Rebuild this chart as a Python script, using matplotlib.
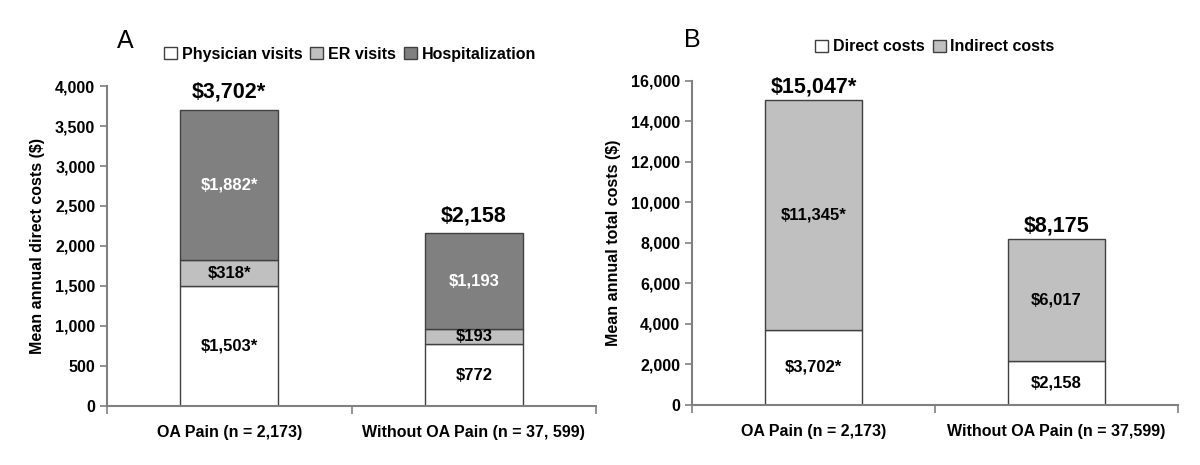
import matplotlib.pyplot as plt
from matplotlib.ticker import FuncFormatter, FixedLocator

plt.rcParams['font.family'] = ['Liberation Sans', 'DejaVu Sans']

groups_a = ["OA Pain (n = 2,173)", "Without OA Pain (n = 37, 599)"]
physician = [1503, 772]
er = [318, 193]
hosp = [1882, 1193]
physician_lbl = ["$1,503*", "$772"]
er_lbl = ["$318*", "$193"]
hosp_lbl = ["$1,882*", "$1,193"]
total_a = [3702, 2158]
total_a_lbl = ["$3,702*", "$2,158"]

groups_b = ["OA Pain (n = 2,173)", "Without OA Pain (n = 37,599)"]
direct = [3702, 2158]
indirect = [11345, 6017]
direct_lbl = ["$3,702*", "$2,158"]
indirect_lbl = ["$11,345*", "$6,017"]
total_b = [15047, 8175]
total_b_lbl = ["$15,047*", "$8,175"]

fig = plt.figure(figsize=(12, 4.65), dpi=100)
ax1 = fig.add_axes([0.0892, 0.127, 0.4075, 0.688])
ax2 = fig.add_axes([0.5767, 0.129, 0.405, 0.6975])

edge = "#404040"
w = 0.4
x = [0, 1]
fs = 11.5

def style(ax, ymax, step, groups, ylabel):
    ax.set_xlim(-0.5, 1.5)
    ax.set_ylim(0, ymax)
    ax.set_yticks(range(0, ymax + 1, step))
    ax.yaxis.set_major_formatter(FuncFormatter(lambda v, p: f"{int(v):,}"))
    ax.set_xticks(x)
    ax.set_xticklabels(groups, fontsize=fs, fontweight="bold")
    ax.xaxis.set_minor_locator(FixedLocator([-0.5, 0.5, 1.5]))
    ax.tick_params(axis="x", which="major", length=0, pad=14)
    ax.tick_params(axis="x", which="minor", length=6, color="#808080", width=1.2)
    ax.tick_params(axis="y", length=5, color="#808080", width=1.2, labelsize=fs)
    for t in ax.get_yticklabels():
        t.set_fontweight("bold")
    for s in ["top", "right"]:
        ax.spines[s].set_visible(False)
    for s in ["left", "bottom"]:
        ax.spines[s].set_color("#808080")
        ax.spines[s].set_linewidth(1.5)
    ax.set_ylabel(ylabel, fontsize=fs, fontweight="bold", labelpad=7)

# Panel A
ax1.bar(x, physician, w, color="white", edgecolor=edge, lw=1, label="Physician visits")
ax1.bar(x, er, w, bottom=physician, color="#c0c0c0", edgecolor=edge, lw=1, label="ER visits")
bot = [p + e for p, e in zip(physician, er)]
ax1.bar(x, hosp, w, bottom=bot, color="#808080", edgecolor=edge, lw=1, label="Hospitalization")
for i in x:
    ax1.text(i, physician[i] / 2, physician_lbl[i], ha="center", va="center", fontsize=12, fontweight="bold")
    ax1.text(i, physician[i] + er[i] / 2, er_lbl[i], ha="center", va="center", fontsize=12, fontweight="bold")
    ax1.text(i, bot[i] + hosp[i] / 2, hosp_lbl[i], ha="center", va="center", fontsize=12, fontweight="bold", color="white")
    ax1.annotate(total_a_lbl[i], (i, total_a[i]), xytext=(0, 5), textcoords="offset points",
                 ha="center", va="bottom", fontsize=15.5, fontweight="bold")
style(ax1, 4000, 500, groups_a, "Mean annual direct costs ($)")
ax1.legend(loc="center", bbox_to_anchor=(0.497, 1.1), ncol=3, frameon=False,
           prop={"weight": "bold", "size": fs}, handlelength=0.8, handleheight=0.8,
           handletextpad=0.3, columnspacing=0.5, borderpad=0)
fig.text(0.104, 0.912, "A", fontsize=18, ha="center", va="center")

# Panel B
ax2.bar(x, direct, w, color="white", edgecolor=edge, lw=1, label="Direct costs")
ax2.bar(x, indirect, w, bottom=direct, color="#c0c0c0", edgecolor=edge, lw=1, label="Indirect costs")
for i in x:
    ax2.text(i, direct[i] / 2, direct_lbl[i], ha="center", va="center", fontsize=12, fontweight="bold")
    ax2.text(i, direct[i] + indirect[i] / 2, indirect_lbl[i], ha="center", va="center", fontsize=12, fontweight="bold")
    ax2.annotate(total_b_lbl[i], (i, total_b[i]), xytext=(0, 2), textcoords="offset points",
                 ha="center", va="bottom", fontsize=15.5, fontweight="bold")
style(ax2, 16000, 2000, groups_b, "Mean annual total costs ($)")
ax2.legend(loc="center", bbox_to_anchor=(0.5, 1.104), ncol=2, frameon=False,
           prop={"weight": "bold", "size": fs}, handlelength=0.8, handleheight=0.8,
           handletextpad=0.3, columnspacing=0.5, borderpad=0)
fig.text(0.577, 0.914, "B", fontsize=18, ha="center", va="center")

fig.savefig("out.png")
